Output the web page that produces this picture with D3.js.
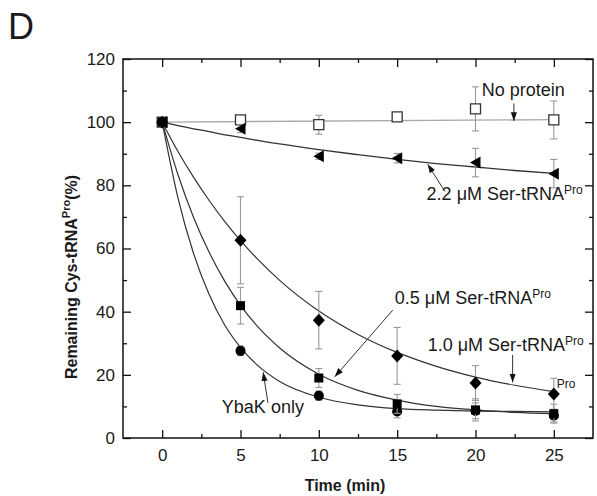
<!DOCTYPE html>
<html>
<head>
<meta charset="utf-8">
<script src="https://cdn.jsdelivr.net/npm/d3@7"></script>
<style>
  body { margin: 0; background: #fff; }
  text { font-family: Arial, "Liberation Sans", sans-serif; fill: #1a1a1a; }
</style>
</head>
<body>
<div id="chart-area"></div>
<script>
// measured points (min, % remaining) and +/- error
var times = [0, 5, 10, 15, 20, 25];
var noProtein    = [100, 100.7, 99.2, 101.7, 104.2, 100.7];
var noProteinErr = [0, 1, 3, 0.8, 7, 6];
var ser22    = [100, 97.9, 89.2, 88.6, 87.2, 83.7];
var ser22Err = [0, 1.2, 1, 1.5, 4.5, 4.5];
var ser10    = [100, 62.6, 37.3, 26.0, 17.4, 13.9];
var ser10Err = [0, 13.8, 9.1, 9.0, 5.5, 5.0];
var ser05    = [100, 41.9, 19.0, 10.8, 8.9, 7.7];
var ser05Err = [0, 5.8, 3, 3, 3.5, 3];
var ybak     = [100, 27.6, 13.4, 8.4, 8.6, 7.1];
var ybakErr  = [0, 1.5, 1.5, 2, 2.5, 2];

// fitted curves
var fitTimes = [0, 1, 2, 3, 4, 5, 6, 7.5, 10, 12.5, 15, 17.5, 20, 22.5, 25];
var fit22 = [100, 98.9, 97.9, 97.0, 96.0, 95.2, 94.3, 93.1, 91.3, 89.7, 88.2, 86.9, 85.8, 84.7, 83.8];
var fit10 = [100, 90.8, 82.6, 75.2, 68.5, 62.5, 57.1, 49.9, 40.2, 32.8, 27.1, 22.7, 19.3, 16.7, 14.7];
var fit05 = [100, 83.5, 69.9, 58.8, 49.6, 42.0, 35.8, 28.5, 20.2, 15.1, 12.0, 10.0, 8.9, 8.1, 7.7];
var fitYbak = [100, 76.2, 58.5, 45.4, 35.7, 28.7, 23.4, 17.9, 12.9, 10.5, 9.3, 8.8, 8.5, 8.4, 8.3];
var fitNoProteinTimes = [0, 25];
var fitNoProtein = [100, 100.8];

var xTicks = [0, 5, 10, 15, 20, 25];
var xMinor = [2.5, 7.5, 12.5, 17.5, 22.5];
var yTicks = [0, 20, 40, 60, 80, 100, 120];
var yMinor = [10, 30, 50, 70, 90, 110];

var margin = { left: 123, right: 4, top: 59, bottom: 58 };
var width = 597 - margin.left - margin.right,
    height = 496 - margin.top - margin.bottom;

var svg = d3.select("#chart-area")
    .append("svg")
        .attr("width", 597)
        .attr("height", 496);

var g = svg.append("g")
    .attr("transform", "translate(" + margin.left + ", " + margin.top + ")");

svg.append("text")
    .attr("x", 8)
    .attr("y", 39)
    .style("font-size", "36px")
    .text("D");

let x = d3.scaleLinear().domain([-2.5, 27.5]).range([0, width]);
let y = d3.scaleLinear().domain([0, 120]).range([height, 0]);

// axes, ticks pointing inward on all four sides
function tickStyle(sel) {
    sel.select(".domain").remove();
    sel.selectAll("line").attr("stroke", "#111").attr("stroke-width", 1.3);
    sel.selectAll("text").style("font-size", "17px").attr("fill", "#1a1a1a");
}

g.append("g").attr("transform", "translate(0," + height + ")")
    .call(d3.axisBottom(x).tickValues(xTicks).tickSize(-8).tickSizeOuter(0).tickPadding(11))
    .call(tickStyle);
g.append("g").attr("transform", "translate(0," + height + ")")
    .call(d3.axisBottom(x).tickValues(xMinor).tickSize(-4).tickSizeOuter(0).tickFormat(""))
    .call(tickStyle);
g.append("g")
    .call(d3.axisTop(x).tickValues(xTicks).tickSize(-8).tickSizeOuter(0).tickFormat(""))
    .call(tickStyle);
g.append("g")
    .call(d3.axisTop(x).tickValues(xMinor).tickSize(-4).tickSizeOuter(0).tickFormat(""))
    .call(tickStyle);

g.append("g")
    .call(d3.axisLeft(y).tickValues(yTicks).tickSize(-8).tickSizeOuter(0).tickPadding(8))
    .call(tickStyle);
g.append("g")
    .call(d3.axisLeft(y).tickValues(yMinor).tickSize(-4).tickSizeOuter(0).tickFormat(""))
    .call(tickStyle);
g.append("g").attr("transform", "translate(" + width + ",0)")
    .call(d3.axisRight(y).tickValues(yTicks).tickSize(-8).tickSizeOuter(0).tickFormat(""))
    .call(tickStyle);
g.append("g").attr("transform", "translate(" + width + ",0)")
    .call(d3.axisRight(y).tickValues(yMinor).tickSize(-4).tickSizeOuter(0).tickFormat(""))
    .call(tickStyle);

g.append("rect")
    .attr("width", width)
    .attr("height", height)
    .attr("fill", "none")
    .attr("stroke", "#111")
    .attr("stroke-width", 1.5);

// axis titles
g.append("text")
    .attr("x", x(12.5) - 13)
    .attr("y", height + 53)
    .attr("text-anchor", "middle")
    .style("font-size", "16px")
    .style("font-weight", "bold")
    .text("Time (min)");

var yl = svg.append("text")
    .attr("transform", "translate(77, 277) rotate(-90)")
    .attr("text-anchor", "middle")
    .style("font-size", "16px")
    .style("font-weight", "bold");
yl.append("tspan").text("Remaining Cys-tRNA");
yl.append("tspan").attr("dy", -7).style("font-size", "11px").text("Pro");
yl.append("tspan").attr("dy", 7).text("(%)");

// fitted lines
var line = d3.line()
    .x(d => x(d[0]))
    .y(d => y(d[1]))
    .curve(d3.curveMonotoneX);

function pairs(ts, vs) { return ts.map((t, i) => [t, vs[i]]); }

var fits = [
    { pts: pairs(fitNoProteinTimes, fitNoProtein), color: "#aaa", w: 1.4 },
    { pts: pairs(fitTimes, fit22), color: "#333", w: 1.3 },
    { pts: pairs(fitTimes, fit10), color: "#333", w: 1.2 },
    { pts: pairs(fitTimes, fit05), color: "#333", w: 1.2 },
    { pts: pairs(fitTimes, fitYbak), color: "#333", w: 1.2 }
];

g.selectAll(".fit")
    .data(fits)
    .enter()
    .append("path")
    .attr("class", "fit")
    .attr("d", d => line(d.pts))
    .attr("fill", "none")
    .attr("stroke", d => d.color)
    .attr("stroke-width", d => d.w);

// series with error bars and markers
var series = [
    { vals: noProtein, err: noProteinErr, shape: "openSquare" },
    { vals: ser22, err: ser22Err, shape: "triangle" },
    { vals: ser10, err: ser10Err, shape: "diamond" },
    { vals: ybak, err: ybakErr, shape: "circle" },
    { vals: ser05, err: ser05Err, shape: "square" }
];

series.forEach(s => {
    var pts = times.map((t, i) => ({ t: t, v: s.vals[i], e: s.err[i] }));
    var eb = g.append("g").selectAll("g")
        .data(pts.filter(d => d.e > 0))
        .enter().append("g")
        .attr("stroke", "#999")
        .attr("stroke-width", 1.1);
    eb.append("line")
        .attr("x1", d => x(d.t)).attr("x2", d => x(d.t))
        .attr("y1", d => y(d.v + d.e)).attr("y2", d => y(d.v - d.e));
    eb.append("line")
        .attr("x1", d => x(d.t) - 3.5).attr("x2", d => x(d.t) + 3.5)
        .attr("y1", d => y(d.v + d.e)).attr("y2", d => y(d.v + d.e));
    eb.append("line")
        .attr("x1", d => x(d.t) - 3.5).attr("x2", d => x(d.t) + 3.5)
        .attr("y1", d => y(d.v - d.e)).attr("y2", d => y(d.v - d.e));

    var m = g.append("g").selectAll("path")
        .data(pts)
        .enter().append("path")
        .attr("transform", d => "translate(" + x(d.t) + "," + y(d.v) + ")");
    if (s.shape == "openSquare") {
        m.attr("d", "M-5,-5H5V5H-5Z").attr("fill", "#fff").attr("stroke", "#333").attr("stroke-width", 1.3);
    } else if (s.shape == "square") {
        m.attr("d", "M-4.5,-4.5H4.5V4.5H-4.5Z").attr("fill", "#000");
    } else if (s.shape == "triangle") {
        m.attr("d", "M-5.5,0L5,-6L5,6Z").attr("fill", "#000");
    } else if (s.shape == "diamond") {
        m.attr("d", "M0,-6.5L6,0L0,6.5L-6,0Z").attr("fill", "#000");
    } else {
        m.attr("d", d3.symbol(d3.symbolCircle, 80)()).attr("fill", "#000");
    }
});

// annotations
svg.append("defs").append("marker")
    .attr("id", "head")
    .attr("markerUnits", "userSpaceOnUse")
    .attr("viewBox", "0 -4 10 8")
    .attr("refX", 10).attr("refY", 0)
    .attr("markerWidth", 9).attr("markerHeight", 7)
    .attr("orient", "auto")
    .append("path").attr("d", "M0,-3.5L10,0L0,3.5Z").attr("fill", "#111");

var labels = [
    { t: 20.4, v: 108.4, main: "No protein", sup: "" },
    { t: 16.88, v: 75.5, main: "2.2 \u03bcM Ser-tRNA", sup: "Pro" },
    { t: 14.85, v: 42.4, main: "0.5 \u03bcM Ser-tRNA", sup: "Pro" },
    { t: 16.95, v: 27.6, main: "1.0 \u03bcM Ser-tRNA", sup: "Pro" },
    { t: 3.81, v: 8.0, main: "YbaK only", sup: "" }
];
labels.forEach(l => {
    var tx = g.append("text")
        .attr("x", x(l.t)).attr("y", y(l.v))
        .style("font-size", "18px");
    tx.append("tspan").text(l.main);
    if (l.sup) tx.append("tspan").attr("dy", -6).style("font-size", "12px").text(l.sup);
});
g.append("text")
    .attr("x", x(25.19)).attr("y", y(15.9))
    .style("font-size", "12px")
    .text("Pro");

var arrows = [
    [22.45, 105.9, 22.45, 100.4],
    [18.04, 78.1, 16.95, 86.7],
    [14.72, 40.5, 11.02, 19.4],
    [22.37, 26.3, 22.37, 17.6],
    [6.75, 11.1, 6.45, 20.8]
];
g.selectAll(".arrow")
    .data(arrows)
    .enter()
    .append("line")
    .attr("class", "arrow")
    .attr("x1", d => x(d[0])).attr("y1", d => y(d[1]))
    .attr("x2", d => x(d[2])).attr("y2", d => y(d[3]))
    .attr("stroke", "#333")
    .attr("stroke-width", 1)
    .attr("marker-end", "url(#head)");
</script>
</body>
</html>
